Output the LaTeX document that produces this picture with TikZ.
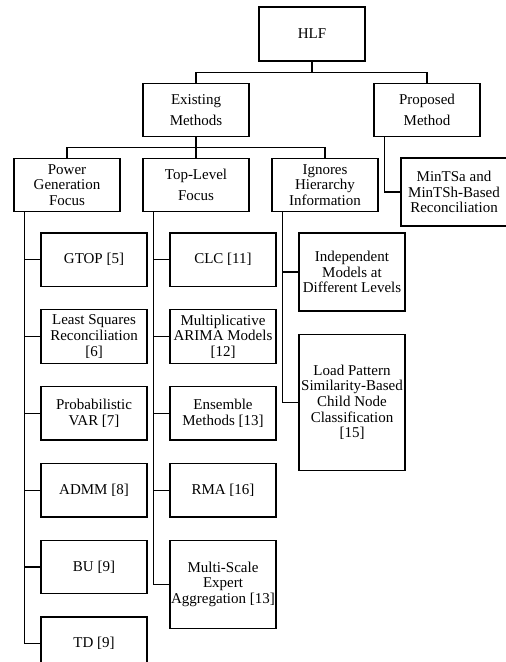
\documentclass[tikz,border=0pt]{standalone}
\usepackage{fontspec}
\setmainfont{Liberation Serif}
\usetikzlibrary{positioning}

\begin{document}
\begin{tikzpicture}[x=1pt,y=-1pt,
    box/.style={draw,line width=1.3pt,minimum width=106pt,minimum height=53.5pt,
      inner sep=1pt,align=center,font=\fontsize{15}{15.7}\selectfont},
    widebox/.style={box,font=\fontsize{15}{21.5}\selectfont},
    link/.style={line width=1.3pt},
    node distance=22pt]
  \useasboundingbox (0,0) rectangle (506,662);
  \clip (0,0) rectangle (506,662);

  \node[box,minimum height=54pt] (hlf) at (312,34) {HLF};
  \node[widebox] (exist) at (196,110) {Existing\\Methods};
  \node[widebox] (prop) at (427,110) {Proposed\\Method};

  \node[box] (power) at (67,185) {Power\\Generation\\Focus};
  \node[widebox] (toplev) at (196,185) {Top-Level\\Focus};
  \node[box] (ignore) at (325,185) {Ignores\\Hierarchy\\Information};
  \node[box,minimum height=68pt] (mints) at (454,192) {MinTSa and\\MinTSh-Based\\Reconciliation};

  \node[box] (gtop) at (94,259.75) {GTOP [5]};
  \node[box,below=of gtop] (lsr) {Least Squares\\Reconciliation\\{[6]}};
  \node[box,below=of lsr] (pvar) {Probabilistic\\VAR [7]};
  \node[box,below=of pvar] (admm) {ADMM [8]};
  \node[box,below=of admm] (bu) {BU [9]};
  \node[box,below=of bu] (td) {TD [9]};

  \node[box] (clc) at (223,259.75) {CLC [11]};
  \node[box,below=of clc] (marima) {Multiplicative\\ARIMA Models\\{[12]}};
  \node[box,below=of marima] (ensem) {Ensemble\\Methods [13]};
  \node[box,below=of ensem] (rma) {RMA [16]};
  \node[box,below=of rma,minimum height=88pt] (mse) {Multi-Scale\\Expert\\Aggregation [13]};

  \node[box,minimum height=78pt] (indep) at (352,272) {Independent\\Models at\\Different Levels};
  \node[box,below=of indep,minimum height=136pt] (loadpat) {Load Pattern\\Similarity-Based\\Child Node\\Classification\\{[15]}};

  \draw[link] (hlf.south) -- ++(0,11) -| (exist.north);
  \draw[link] (hlf.south) ++(0,11) -| (prop.north);
  \foreach \c in {power,toplev,ignore}
    \draw[link] (exist.south) -- ++(0,10) -| (\c.north);
  \draw[link] ([xshift=11pt]prop.south west) |- (mints.west);

  \foreach \c in {gtop,lsr,pvar,admm,bu,td}
    \draw[link] ([xshift=11pt]power.south west) |- (\c.west);
  \foreach \c in {clc,marima,ensem,rma,mse}
    \draw[link] ([xshift=11pt]toplev.south west) |- (\c.west);
  \foreach \c in {indep,loadpat}
    \draw[link] ([xshift=11pt]ignore.south west) |- (\c.west);
\end{tikzpicture}
\end{document}
